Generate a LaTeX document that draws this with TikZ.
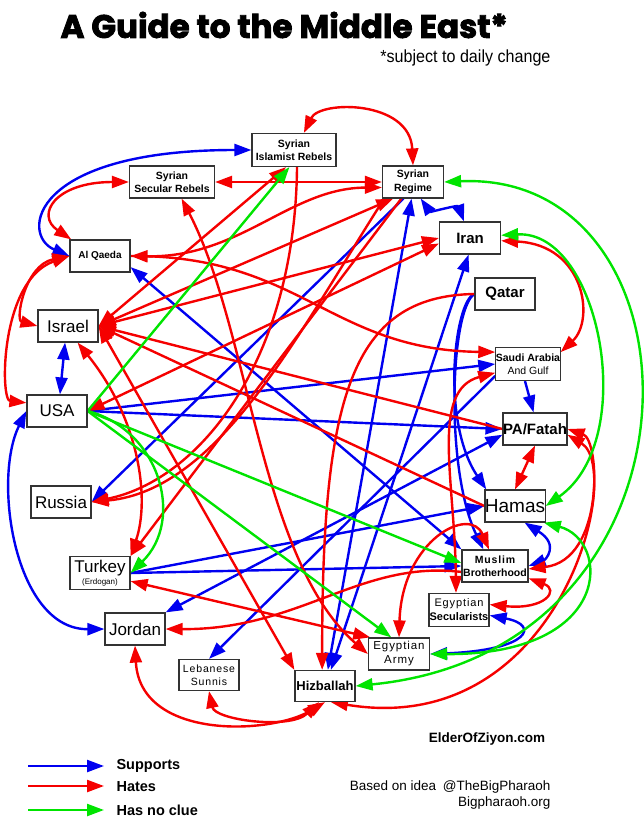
\documentclass[tikz,border=0pt]{standalone}
\usepackage{fontspec}
\setmainfont{Liberation Sans}
\newfontfamily\titlefont{Poppins}[BoldFeatures={FakeBold=2.5}]
\newfontfamily\narrowfont{Liberation Sans}[FakeStretch=0.92]
\newfontfamily\spacedfont{Liberation Sans}[LetterSpace=8]
\usetikzlibrary{arrows.meta,backgrounds,positioning}
\definecolor{supblue}{RGB}{0,0,240}
\definecolor{hatered}{RGB}{245,0,0}
\definecolor{cluegreen}{RGB}{0,228,0}

\begin{document}
\begin{tikzpicture}[
    x=1pt, y=-1pt,
    >={Triangle[length=17pt,width=12pt]},
    actor/.style={draw=black!80, line width=1.2pt, fill=white, align=center, inner sep=0pt, minimum width=60pt, minimum height=32pt},
    plain/.style={actor, font=\fontsize{17}{18}\selectfont},
    heavy/.style={actor, font=\fontsize{15}{16}\selectfont\bfseries},
    small/.style={actor, font=\fontsize{10.5}{13.5}\selectfont\bfseries},
    sup/.style={draw=supblue, line width=2.4pt},
    hate/.style={draw=hatered, line width=2.4pt},
    clue/.style={draw=cluegreen, line width=2.4pt}
]
    \useasboundingbox (0,0) rectangle (643,826);

    % Title
    \node[anchor=west, font=\fontsize{32.5}{34}\titlefont\bfseries] (title) at (57,25) {A Guide to the Middle East*};
    \node[anchor=east, font=\fontsize{17.5}{19}\narrowfont] (note) at (554,58) {*subject to daily change};

    % Players
    \node[small, minimum width=84pt, minimum height=33pt] (sir) at (294,150) {Syrian\\Islamist Rebels};
    \node[small, minimum width=85pt] (ssr) at (172,182) {Syrian\\Secular Rebels};
    \node[small, minimum width=61pt] (sreg) at (413,182) {Syrian\\Regime};
    \node[heavy, minimum width=61pt] (iran) at (470,238) {Iran};
    \node[actor, font=\fontsize{10}{12}\selectfont\bfseries] (alq) at (100,256) {Al Qaeda};
    \node[heavy] (qatar) at (505,294) {Qatar};
    \node[plain] (israel) at (68,326) {Israel};
    \node[actor, minimum width=64pt, minimum height=33pt, font=\fontsize{10.5}{13}\selectfont] (saudi) at (528,364) {\textbf{Saudi Arabia}\\And Gulf};
    \node[plain] (usa) at (57,411) {USA};
    \node[heavy, minimum width=61pt] (fatah) at (535,429) {PA/Fatah};
    \node[plain] (russia) at (61,502) {Russia};
    \node[actor, font=\fontsize{19}{20}\selectfont] (hamas) at (515,506) {Hamas};
    \node[small, minimum width=66pt] (mb) at (495,566) {{\spacedfont Muslim}\\Brotherhood};
    \node[actor, minimum height=33pt] (turkey) at (100,573) {{\fontsize{17}{18}\selectfont Turkey}\\{\fontsize{8}{8}\selectfont (Erdogan)}};
    \node[actor, minimum width=60pt, minimum height=33pt, font=\fontsize{11}{14}\selectfont] (esec) at (459,610) {{\spacedfont Egyptian}\\\textbf{Secularists}};
    \node[plain] (jordan) at (135,629) {Jordan};
    \node[actor, minimum width=61pt, font=\fontsize{11.5}{14}\spacedfont] (earmy) at (399,654) {Egyptian\\Army};
    \node[actor, minimum height=31pt, font=\fontsize{10.5}{13}\spacedfont] (lsun) at (209,675) {Lebanese\\Sunnis};
    \node[actor, minimum height=31pt, font=\fontsize{13}{14}\selectfont\bfseries] (hizb) at (325,686) {Hizballah};

    \begin{scope}[on background layer]
    % Supports
    \draw[sup,<->] (alq.west) .. controls (20,235) and (30,150) .. (sir.west);
    \draw[sup,<->] (sreg.-65) .. controls (430,212) and (458,205) .. (iran.110);
    \draw[sup,<->] (israel.-100) -- (usa.80);
    \draw[sup,<->] (usa.west) .. controls (-8,480) and (15,630) .. (jordan.west);
    \draw[sup,->] (usa.east) -- (saudi.west);
    \draw[sup,->] (usa.east) -- (fatah.west);
    \draw[sup,->] (sreg.-120) -- (russia.east);
    \draw[sup,<->] (alq.-20) -- (mb.north west);
    \draw[sup,<->] (hizb.80) -- (sreg.-95);
    \draw[sup,<->] (hizb.70) -- (iran.-95);
    \draw[sup,->] (qatar.west) .. controls (455,300) and (440,420) .. (hamas.150);
    \draw[sup,->] (qatar.west) .. controls (450,310) and (445,470) .. (mb.125);
    \draw[sup,->] (saudi.-160) -- (lsun.north);
    \draw[sup,->] (saudi.-100) -- (fatah.95);
    \draw[sup,<->] (jordan.north east) -- (fatah.-170);
    \draw[sup,->] (turkey.east) -- (hamas.west);
    \draw[sup,->] (turkey.east) -- (mb.west);
    \draw[sup,<->] (hamas.-60) .. controls (560,545) and (545,560) .. (mb.east);
    \draw[sup,<->] (esec.-10) .. controls (540,625) and (530,650) .. (earmy.east);

    % Hates
    \draw[hate,<->] (sir.60) .. controls (320,100) and (410,100) .. (sreg.north);
    \draw[hate,<->] (ssr.east) -- (sreg.west);
    \draw[hate,<->] (sreg.-170) .. controls (290,188) and (240,258) .. (alq.east);
    \draw[hate,<->] (alq.150) .. controls (35,215) and (55,182) .. (ssr.west);
    \draw[hate,<->] (alq.west) .. controls (25,265) and (15,320) .. (israel.west);
    \draw[hate,<->] (alq.west) .. controls (0,280) and (0,400) .. (usa.165);
    \draw[hate,->] (alq.east) .. controls (300,255) and (330,350) .. (saudi.160);
    \draw[hate,<->] (israel.east) -- (sir.-115);
    \draw[hate,<->] (israel.east) -- (sreg.-140);
    \draw[hate,<->] (israel.east) -- (iran.west);
    \draw[hate,->] (fatah.west) -- (israel.east);
    \draw[hate,->] (hamas.west) -- (israel.east);
    \draw[hate,<->] (israel.east) -- (hizb.north west);
    \draw[hate,<->] (israel.-60) .. controls (140,420) and (150,500) .. (turkey.north east);
    \draw[hate,<->] (usa.east) -- (iran.-170);
    \draw[hate,->] (sreg.-125) -- (turkey.north east);
    \draw[hate,->] (sir.-80) .. controls (295,360) and (200,480) .. (russia.east);
    \draw[hate,->] (sreg.-150) .. controls (300,330) and (220,490) .. (russia.east);
    \draw[hate,<->] (ssr.-60) .. controls (250,330) and (260,560) .. (earmy.west);
    \draw[hate,->] (qatar.west) .. controls (350,296) and (322,400) .. (hizb.100);
    \draw[hate,<->] (earmy.north) .. controls (402,540) and (470,505) .. (mb.110);
    \draw[hate,<->] (mb.-20) .. controls (560,590) and (545,610) .. (esec.10);
    \draw[hate,<->] (saudi.-165) .. controls (430,390) and (455,480) .. (esec.100);
    \draw[hate,<->] (turkey.-15) -- (earmy.150);
    \draw[hate,->] (mb.-170) .. controls (360,560) and (300,630) .. (jordan.east);
    \draw[hate,<->] (fatah.south) -- (hamas.north);
    \draw[hate,<->] (fatah.east) .. controls (600,440) and (605,560) .. (mb.-5);
    \draw[hate,<->] (fatah.-10) .. controls (625,470) and (560,740) .. (hizb.-70);
    \draw[hate,<->] (hizb.-110) .. controls (290,730) and (215,720) .. (lsun.south);
    \draw[hate,<->] (jordan.south) .. controls (140,740) and (270,735) .. (hizb.south);
    \draw[hate,<->] (iran.-5) .. controls (585,245) and (595,320) .. (saudi.20);

    % Has no clue
    \draw[clue,->] (usa.east) -- (sir.-105);
    \draw[clue,->] (usa.east) .. controls (160,430) and (185,520) .. (turkey.east);
    \draw[clue,->] (usa.east) -- (mb.175);
    \draw[clue,->] (usa.east) -- (earmy.115);
    \draw[clue,<->] (iran.5) .. controls (600,230) and (640,440) .. (hamas.east);
    \draw[clue,<->] (sreg.east) .. controls (712,170) and (722,650) .. (hizb.east);
    \draw[clue,<->] (hamas.-30) .. controls (610,540) and (615,655) .. (earmy.east);
    \end{scope}

    % Legend
    \coordinate (supA) at (28,766);
    \coordinate (supB) at (104,766);
    \coordinate (hateA) at (28,786);
    \coordinate (hateB) at (104,786);
    \coordinate (clueA) at (28,810);
    \coordinate (clueB) at (104,810);
    \draw[sup,->] (supA) -- (supB);
    \draw[hate,->] (hateA) -- (hateB);
    \draw[clue,->] (clueA) -- (clueB);
    \node[anchor=west, font=\fontsize{14.5}{16}\selectfont\bfseries] (supT) at (113,766) {Supports};
    \node[anchor=west, font=\fontsize{14.5}{16}\selectfont\bfseries] (hateT) at (113,787) {Hates};
    \node[anchor=west, font=\fontsize{14.5}{16}\selectfont\bfseries] (clueT) at (113,810) {Has no clue};

    % Credits
    \node[font=\fontsize{13.5}{15}\selectfont\bfseries] (site) at (487,739) {ElderOfZiyon.com};
    \node[anchor=east, font=\fontsize{13.5}{15}\selectfont] (idea) at (554,787) {Based on idea\enspace@TheBigPharaoh};
    \node[anchor=east, font=\fontsize{13.5}{15}\selectfont] (page) at (554,803) {Bigpharaoh.org};
\end{tikzpicture}
\end{document}
